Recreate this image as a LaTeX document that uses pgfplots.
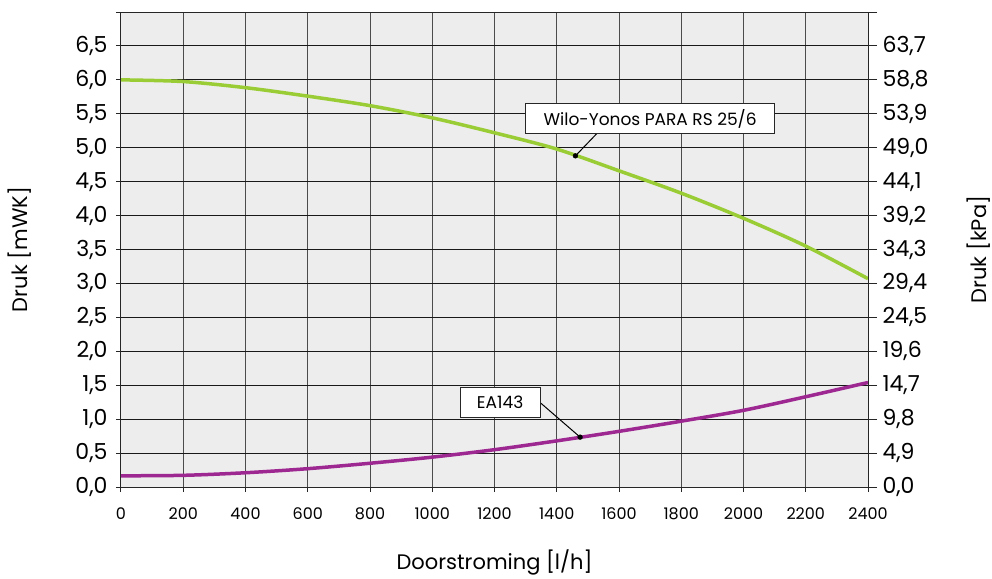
\documentclass[border=0pt]{standalone}
\usepackage{fontspec}
\setmainfont{Poppins}
\usepackage{pgfplots}
\pgfplotsset{compat=1.18}
\definecolor{bggray}{HTML}{EDEDED}
\definecolor{wilo}{HTML}{9ACD35}
\definecolor{eapurple}{HTML}{9E2892}

\begin{document}
\begin{tikzpicture}
\pgfplotsset{
  every axis/.append style={
    scale only axis,
    width=747pt, height=475pt,
    xmin=0, xmax=2400, ymin=0, ymax=7,
    tick align=outside,
    axis line style={black!85, line width=1pt},
    tick style={black!85, line width=1pt},
  },
}
\begin{axis}[
  axis background/.style={fill=bggray},
  xtick={0,200,...,2400},
  ytick={0,0.5,...,7},
  yticklabels={{0,0},{0,5},{1,0},{1,5},{2,0},{2,5},{3,0},{3,5},{4,0},{4,5},{5,0},{5,5},{6,0},{6,5},{}},
  xtick pos=bottom, ytick pos=left,
  major tick length=5pt,
  grid=major,
  x grid style={black!70, line width=1pt},
  y grid style={black!90, line width=1pt},
  /pgf/number format/assume math mode=true,
  /pgf/number format/1000 sep={},
  yticklabel style={font=\fontsize{22}{22}\selectfont, xshift=-5pt},
  xticklabel style={font=\fontsize{16}{16}\selectfont, yshift=-12pt},
  xlabel={Doorstroming [l/h]},
  ylabel={Druk [mWK]},
  xlabel style={font=\fontsize{21}{21}\selectfont, at={(axis description cs:0.5,-0.158)}, anchor=center},
  ylabel style={font=\fontsize{21}{21}\selectfont, inner sep=0pt, at={(axis description cs:-0.1352,0.5)}, anchor=center},
]
\coordinate (o) at (rel axis cs:0,0);

% Wilo-Yonos PARA RS 25/6
\addplot[wilo, line width=3.5pt, smooth] coordinates {
  (0,6.00) (200,5.975) (400,5.885) (600,5.76) (800,5.62)
  (1000,5.44) (1200,5.22) (1400,4.98) (1600,4.66) (1800,4.33)
  (2000,3.96) (2200,3.55) (2400,3.07)
};

% EA143
\addplot[eapurple, line width=3.5pt, smooth] coordinates {
  (0,0.165) (200,0.172) (400,0.21) (600,0.27) (800,0.35)
  (1000,0.44) (1200,0.55) (1400,0.68) (1600,0.82) (1800,0.97)
  (2000,1.13) (2200,1.33) (2400,1.54)
};

\draw[black, line width=1pt] (axis cs:1529,5.21) -- (axis cs:1460,4.88);
\draw[black, line width=1pt] (axis cs:1349,1.235) -- (axis cs:1475,0.735);
\addplot[only marks, mark=*, mark size=2.4pt, black] coordinates {(1460,4.88) (1475,0.735)};

\node[draw=black!85, fill=white, line width=1pt, minimum width=249pt, minimum height=30pt, inner sep=0pt,
  font=\fontsize{17}{17}\selectfont] at (axis cs:1700,5.43) {Wilo-Yonos PARA RS 25/6};
\node[draw=black!85, fill=white, line width=1pt, minimum width=80pt, minimum height=30pt, inner sep=0pt,
  font=\fontsize{17}{17}\selectfont] at (axis cs:1218,1.25) {EA143};
\end{axis}

\begin{axis}[
  axis x line=none,
  axis y line*=right,
  ytick={0,0.5,...,7},
  yticklabels={{0,0},{4,9},{9,8},{14,7},{19,6},{24,5},{29,4},{34,3},{39,2},{44,1},{49,0},{53,9},{58,8},{63,7},{}},
  major tick length=9pt,
  yticklabel style={font=\fontsize{22}{22}\selectfont, xshift=2pt},
  ylabel={Druk [kPa]},
  ylabel style={font=\fontsize{21}{21}\selectfont, inner sep=0pt, at={(axis description cs:1.1475,0.5)}, anchor=center},
]
\end{axis}

\path ([shift={(-121pt,-88pt)}]o) rectangle ++(992pt,575pt);
\end{tikzpicture}
\end{document}
